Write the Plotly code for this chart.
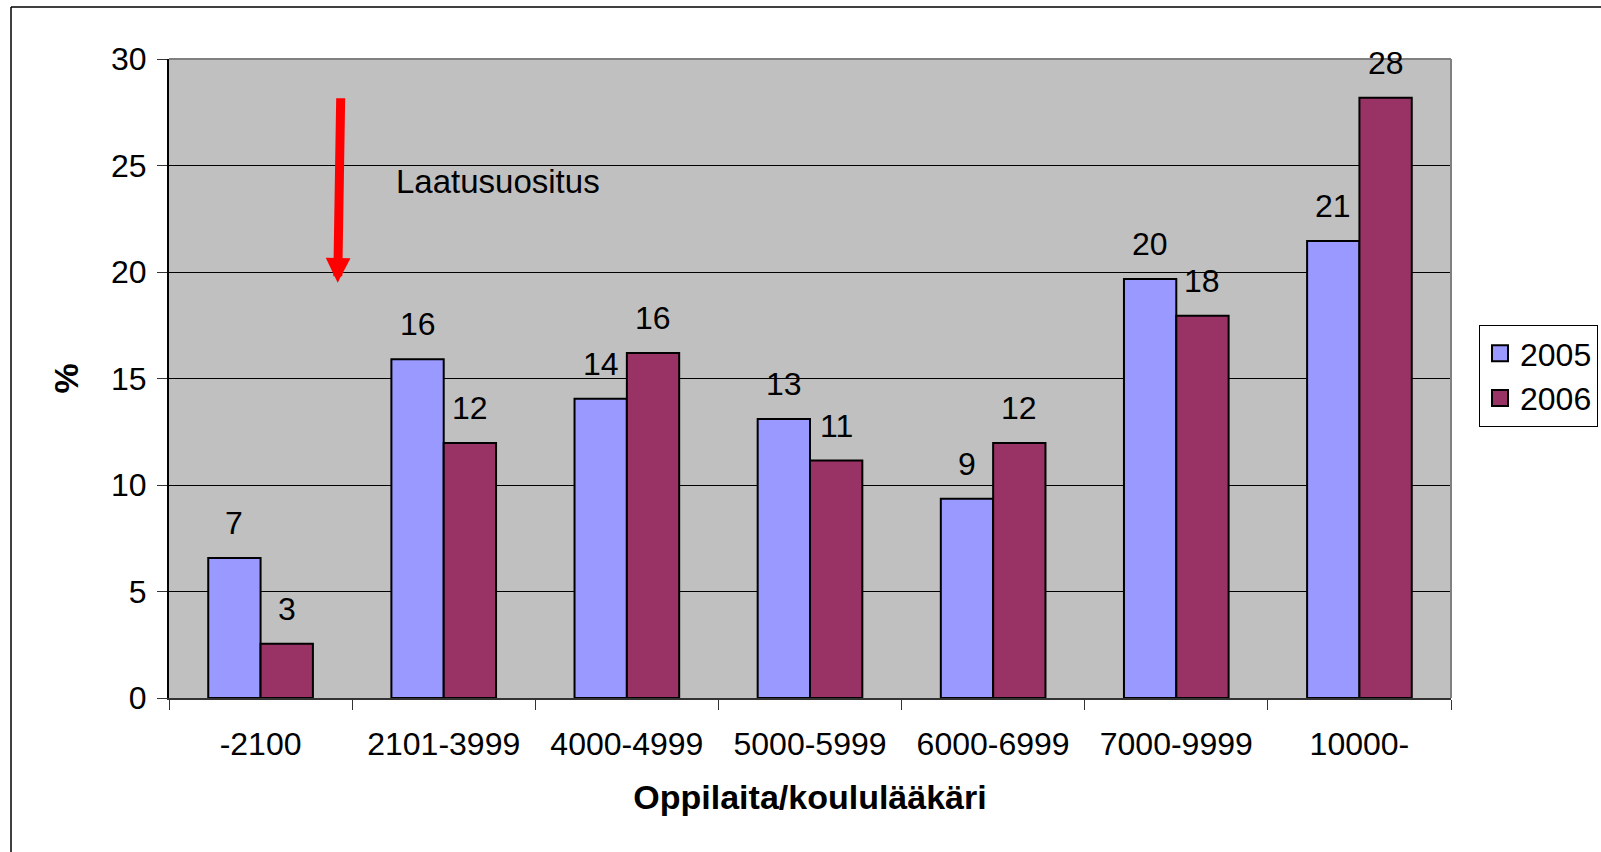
import plotly.graph_objects as go

categories = ["-2100", "2101-3999", "4000-4999", "5000-5999", "6000-6999", "7000-9999", "10000-"]
series_names = ["2005", "2006"]
values_2005 = [6.57, 15.9, 14.05, 13.1, 9.35, 19.67, 21.45]
values_2006 = [2.55, 11.97, 16.2, 11.15, 11.97, 17.95, 28.18]
series_colors = ["#9999FF", "#993366"]
y_ticks = [0, 5, 10, 15, 20, 25, 30]
x_title = "Oppilaita/koululääkäri"
y_title = "%"
note_text = "Laatusuositus"

FONT = "Liberation Sans, Arial, sans-serif"

W, H = 1601, 852
L, R, T, B = 169, 150, 59, 154
PW = W - L - R
PH = H - T - B

fig = go.Figure()
all_values = [values_2005, values_2006]
for name, vals, col in zip(series_names, all_values, series_colors):
    fig.add_trace(go.Bar(
        x=categories, y=vals, name=name, legendgroup=name, showlegend=False,
        marker=dict(color=col, line=dict(color="black", width=2)),
        hoverinfo="x+y+name",
    ))
# legend entries with larger square swatches
for name, col in zip(series_names, series_colors):
    fig.add_trace(go.Scatter(
        x=[None], y=[None], mode="markers", name=name, legendgroup=name,
        marker=dict(symbol="square", size=16, color=col, line=dict(color="black", width=2)),
        hoverinfo="skip",
    ))

cat_w = PW / len(categories)
bargap = 1.5 / 3.5
bar_w = cat_w * (1 - bargap) / 2

annotations = []
for i, vals in enumerate(all_values):
    shift = (i - 0.5) * bar_w
    for k, v in enumerate(vals):
        annotations.append(dict(
            x=k, y=v, xref="x", yref="y", text=f"{v:.0f}", showarrow=False,
            xshift=shift, yshift=35, yanchor="middle", xanchor="center",
            font=dict(family=FONT, size=32, color="black"),
        ))

def px_x(p):
    return (p - L) / PW

def px_y(p):
    return (H - B - p) / PH

annotations.append(dict(
    x=px_x(394), y=px_y(181), xref="paper", yref="paper", text=note_text,
    showarrow=False, xanchor="left", yanchor="middle",
    font=dict(family=FONT, size=33, color="black"),
))
annotations.append(dict(
    x=px_x(337.7), y=px_y(282.7), xref="paper", yref="paper", text="",
    showarrow=True, ax=3, ay=-186, arrowhead=2, arrowsize=0.55,
    arrowwidth=9, arrowcolor="#FF0000", standoff=0,
))

shapes = [
    dict(type="line", xref="paper", yref="paper", x0=0, x1=1, y0=1, y1=1,
         line=dict(color="#808080", width=2)),
    dict(type="line", xref="paper", yref="paper", x0=1, x1=1, y0=0, y1=1,
         line=dict(color="#808080", width=2)),
    dict(type="line", xref="paper", yref="paper", x0=px_x(11), x1=px_x(11),
         y0=px_y(7), y1=px_y(900), line=dict(color="black", width=1.5)),
    dict(type="line", xref="paper", yref="paper", x0=px_x(11), x1=px_x(1700),
         y0=px_y(7), y1=px_y(7), line=dict(color="black", width=1.5)),
]

fig.update_layout(
    width=W, height=H,
    margin=dict(l=L, r=R, t=T, b=B, autoexpand=False),
    paper_bgcolor="white", plot_bgcolor="#C0C0C0",
    barmode="group", bargap=bargap, bargroupgap=0,
    font=dict(family=FONT, size=32, color="black"),
    showlegend=True,
    legend=dict(
        x=px_x(1479), y=px_y(325), xanchor="left", yanchor="top",
        bgcolor="white", bordercolor="black", borderwidth=1,
        font=dict(family=FONT, size=32, color="black"),
        tracegroupgap=0, itemsizing="trace",
    ),
    annotations=annotations,
    shapes=shapes,
)

fig.update_xaxes(
    type="category", categoryorder="array", categoryarray=categories,
    range=[-0.5, len(categories) - 0.5],
    showgrid=False, zeroline=False,
    showline=True, linecolor="#333333", linewidth=2,
    ticks="outside", tickson="boundaries", ticklen=10, tickcolor="#333333", tickwidth=1,
    tickfont=dict(family=FONT, size=32, color="black"), tickangle=0,
    ticklabelstandoff=17,
    title=dict(text=f"<b>{x_title}</b>", font=dict(family=FONT, size=34, color="black"), standoff=24),
)
fig.update_yaxes(
    range=[0, 30], tickvals=y_ticks, ticktext=[str(t) for t in y_ticks],
    showgrid=True, gridcolor="black", gridwidth=1, zeroline=False,
    showline=True, linecolor="black", linewidth=2,
    ticks="outside", ticklen=10, tickcolor="#333333", tickwidth=1,
    tickfont=dict(family=FONT, size=32, color="black"),
    ticklabelstandoff=4,
    title=dict(text=f"<b>{y_title}</b>", font=dict(family=FONT, size=34, color="black"), standoff=22),
)

fig.write_html("out.html", config={"displayModeBar": False},
               post_script="document.body.style.margin='0';document.body.style.overflow='hidden';")
